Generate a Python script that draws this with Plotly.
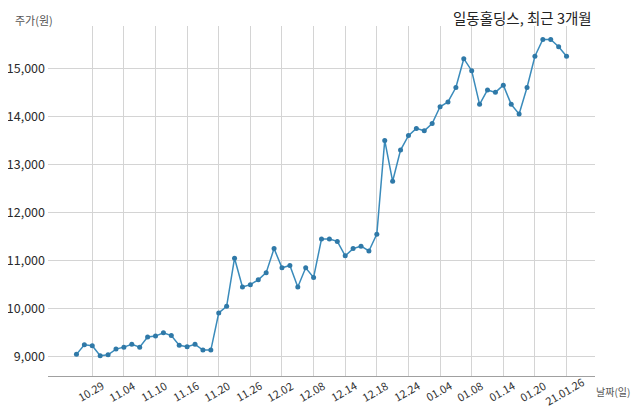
import plotly.graph_objects as go

dates = ["10.27", "10.28", "10.29", "10.30", "11.02", "11.03", "11.04", "11.05", "11.06", "11.09",
         "11.10", "11.11", "11.12", "11.13", "11.16", "11.17", "11.18", "11.19", "11.20", "11.23",
         "11.24", "11.25", "11.26", "11.27", "11.30", "12.01", "12.02", "12.03", "12.04", "12.07",
         "12.08", "12.09", "12.10", "12.11", "12.14", "12.15", "12.16", "12.17", "12.18", "12.21",
         "12.22", "12.23", "12.24", "12.28", "12.29", "12.30", "01.04", "01.05", "01.06", "01.07",
         "01.08", "01.11", "01.12", "01.13", "01.14", "01.15", "01.18", "01.19", "01.20", "01.21",
         "01.22", "01.25", "01.26"]

prices = [9050, 9250, 9230, 9020, 9040, 9160, 9200, 9260, 9200, 9410,
          9430, 9500, 9440, 9240, 9210, 9260, 9140, 9140, 9910, 10050,
          11050, 10450, 10500, 10600, 10750, 11250, 10850, 10900, 10450, 10850,
          10650, 11450, 11450, 11400, 11100, 11250, 11300, 11200, 11550, 13500,
          12650, 13300, 13600, 13750, 13700, 13850, 14200, 14300, 14600, 15200,
          14950, 14250, 14550, 14500, 14650, 14250, 14050, 14600, 15250, 15600,
          15600, 15450, 15250]

tick_labels = ["10.29", "11.04", "11.10", "11.16", "11.20", "11.26", "12.02", "12.08",
               "12.14", "12.18", "12.24", "01.04", "01.08", "01.14", "01.20", "21.01.26"]
tick_idx = [2, 6, 10, 14, 18, 22, 26, 30, 34, 38, 42, 46, 50, 54, 58, 62]

y_ticks = [9000, 10000, 11000, 12000, 13000, 14000, 15000]

title = "일동홀딩스, 최근 3개월"
y_title = "주가(원)"
x_title = "날짜(일)"

FONT = "Noto Sans CJK KR"
# The page body adds an 8px margin; size the figure so it fills the 640x414 window.
OFF = 8
W, H = 640 - OFF, 414 - OFF
ML, MR, MT, MB = 48 - OFF, 45, 26 - OFF, 38
plot_w = W - ML - MR
plot_h = H - MT - MB
x_idx = list(range(len(dates)))

fig = go.Figure()
fig.add_trace(go.Scatter(
    x=x_idx, y=prices, mode="lines+markers",
    line=dict(color="#3a8bbb", width=1.5),
    marker=dict(color="#2f79a8", size=5),
    customdata=dates,
    hovertemplate="%{customdata}: %{y:,}원<extra></extra>",
    showlegend=False,
))

fig.update_layout(
    template="none",
    width=W, height=H,
    margin=dict(l=ML, r=MR, t=MT, b=MB, autoexpand=False),
    paper_bgcolor="white", plot_bgcolor="white",
    font=dict(family=FONT, size=12, color="#333"),
    xaxis=dict(
        range=[-3.6, 65.6], tickvals=tick_idx, ticktext=[""] * len(tick_idx),
        showgrid=True, gridcolor="#d4d4d4", gridwidth=1,
        showline=True, linecolor="#a0a0a0", linewidth=1,
        zeroline=False, ticks="", automargin=False,
    ),
    yaxis=dict(
        range=[8600, 15880], tickvals=y_ticks, tickformat=",",
        showgrid=True, gridcolor="#d4d4d4", gridwidth=1,
        showline=False, zeroline=False, ticks="", automargin=False,
        tickfont=dict(size=12.5, color="#2a2a2a"), ticklabelstandoff=2,
    ),
)


def px_x(px):
    return (px - 48) / plot_w


def px_y(py):
    return (376 - py) / plot_h


lab_y = px_y(391)
for i, t in zip(tick_idx, tick_labels):
    fig.add_annotation(x=i, y=lab_y, xref="x", yref="paper", xshift=-2,
                       text=t, showarrow=False, textangle=-30,
                       font=dict(size=11, color="#333"),
                       xanchor="center", yanchor="middle")

fig.add_annotation(x=px_x(595), xref="paper", y=lab_y, yref="paper",
                   text=x_title, showarrow=False, xanchor="left", yanchor="middle",
                   borderpad=0, font=dict(size=10, color="#555"))
fig.add_annotation(x=px_x(13), xref="paper", xanchor="left",
                   y=px_y(19.5), yref="paper",
                   text=y_title, showarrow=False, yanchor="middle",
                   font=dict(size=11, color="#555"))
fig.add_annotation(x=px_x(593), y=px_y(18), xref="paper", yref="paper",
                   text=title, showarrow=False, xanchor="right", yanchor="middle",
                   borderpad=0, font=dict(size=14.5, color="#222"))

fig.write_html("out.html")
